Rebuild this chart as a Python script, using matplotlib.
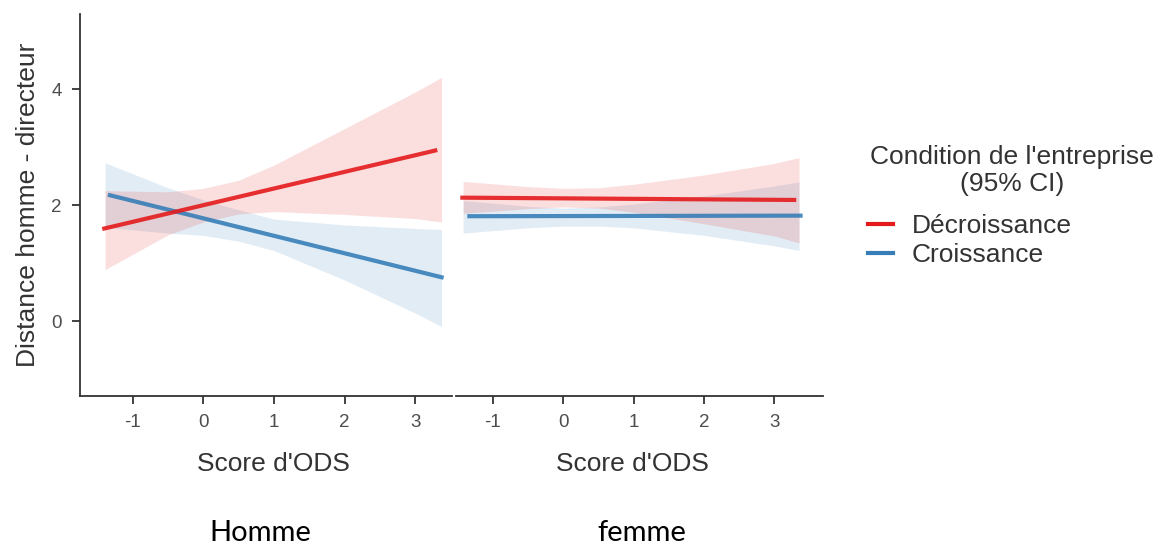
#!/usr/bin/env python3
"""Interaction plot: Distance homme - directeur by Score d'ODS, split by sex."""

import matplotlib

matplotlib.use("Agg")

import matplotlib.pyplot as plt
from matplotlib.lines import Line2D

PANELS = ["Homme", "femme"]
SERIES = ["Décroissance", "Croissance"]
COLORS = {"Décroissance": "#E41A1C", "Croissance": "#377EB8"}

# fitted lines: (x start, x end), (y start, y end)
LINE_X = {
    "Homme": {"Décroissance": [-1.43, 3.31], "Croissance": [-1.35, 3.40]},
    "femme": {"Décroissance": [-1.46, 3.31], "Croissance": [-1.36, 3.40]},
}
LINE_Y = {
    "Homme": {"Décroissance": [1.59, 2.95], "Croissance": [2.18, 0.75]},
    "femme": {"Décroissance": [2.13, 2.09], "Croissance": [1.81, 1.82]},
}

# 95% CI ribbons
RIB_X = {
    "Homme": [-1.39, -0.5, 0.0, 0.5, 1.0, 2.0, 3.0, 3.37],
    "femme": [-1.42, -0.5, 0.0, 0.5, 1.0, 2.0, 3.0, 3.35],
}
RIB_LO = {
    "Homme": {
        "Décroissance": [0.89, 1.49, 1.71, 1.85, 1.89, 1.84, 1.77, 1.71],
        "Croissance": [1.62, 1.52, 1.48, 1.38, 1.22, 0.71, 0.14, -0.09],
    },
    "femme": {
        "Décroissance": [1.86, 1.94, 1.97, 1.95, 1.88, 1.68, 1.47, 1.35],
        "Croissance": [1.52, 1.61, 1.64, 1.64, 1.61, 1.48, 1.30, 1.22],
    },
}
RIB_HI = {
    "Homme": {
        "Décroissance": [2.25, 2.23, 2.29, 2.43, 2.69, 3.32, 3.95, 4.20],
        "Croissance": [2.73, 2.30, 2.09, 1.92, 1.76, 1.66, 1.60, 1.58],
    },
    "femme": {
        "Décroissance": [2.41, 2.32, 2.29, 2.30, 2.36, 2.52, 2.72, 2.82],
        "Croissance": [2.08, 1.98, 1.95, 1.97, 2.02, 2.16, 2.33, 2.40],
    },
}

X_TICKS = [-1, 0, 1, 2, 3]
Y_TICKS = [0, 2, 4]
XLIMS = {"Homme": (-1.745, 3.52), "femme": (-1.52, 3.69)}
YLIM = (-1.29, 5.29)
PANEL_LABEL_X = {"Homme": 0.224, "femme": 0.553}
XLABEL_X = {"Homme": 0.52, "femme": 0.48}


def style_axis(ax, show_y):
    for side in ["top", "right"]:
        ax.spines[side].set_visible(False)
    ax.spines["bottom"].set_color("#333333")
    ax.spines["bottom"].set_linewidth(1.3)
    if show_y:
        ax.spines["left"].set_color("#333333")
        ax.spines["left"].set_linewidth(1.3)
        ax.set_yticks(Y_TICKS)
    else:
        ax.spines["left"].set_visible(False)
        ax.set_yticks([])
    ax.set_xticks(X_TICKS)
    ax.tick_params(colors="#333333", labelcolor="#4d4d4d", labelsize=13.5,
                   length=6, width=1.3, pad=7)
    ax.set_ylim(*YLIM)


def main():
    plt.rcParams["font.family"] = ["Liberation Sans", "DejaVu Sans"]
    plt.rcParams["axes.unicode_minus"] = False
    fig = plt.figure(figsize=(11.61, 5.45), dpi=100)
    ax_h = fig.add_axes([0.0689, 0.273, 0.3205, 0.701])
    ax_f = fig.add_axes([0.3928, 0.273, 0.3161, 0.701])

    for ax, panel in zip([ax_h, ax_f], PANELS):
        for name in SERIES[::-1]:
            ax.fill_between(RIB_X[panel], RIB_LO[panel][name], RIB_HI[panel][name],
                            color=COLORS[name], alpha=0.14, linewidth=0, zorder=1)
        for name in SERIES[::-1]:
            ax.plot(LINE_X[panel][name], LINE_Y[panel][name], color=COLORS[name],
                    linewidth=3, alpha=0.9, solid_capstyle="butt", zorder=2)
        ax.set_xlim(*XLIMS[panel])
        style_axis(ax, panel == "Homme")
        ax.set_xlabel("Score d'ODS", fontsize=19, color="#333333")
        ax.xaxis.set_label_coords(XLABEL_X[panel], -0.145)
        fig.text(PANEL_LABEL_X[panel], 0.022, panel, ha="center", va="center",
                 fontsize=21, family=["Lato", "DejaVu Sans"], color="black")

    ax_h.set_ylabel("Distance homme - directeur", fontsize=19, color="#333333", labelpad=8)

    # legend title drawn separately so its gap to the entries can be set
    fig.text(0.8717, 0.687, "Condition de l'entreprise\n(95% CI)", ha="center",
             va="center", multialignment="center", fontsize=19, color="#333333")
    handles = [Line2D([], [], color=COLORS[name], linewidth=3) for name in SERIES]
    leg = fig.legend(handles, SERIES, loc="upper left", bbox_to_anchor=(0.748, 0.607),
                     frameon=False, fontsize=19, handlelength=0.95,
                     handletextpad=0.7, labelspacing=0.2, borderpad=0,
                     borderaxespad=0)
    for text in leg.get_texts():
        text.set_color("#333333")

    fig.savefig("out.png", dpi=100)
    plt.close(fig)


if __name__ == "__main__":
    main()
